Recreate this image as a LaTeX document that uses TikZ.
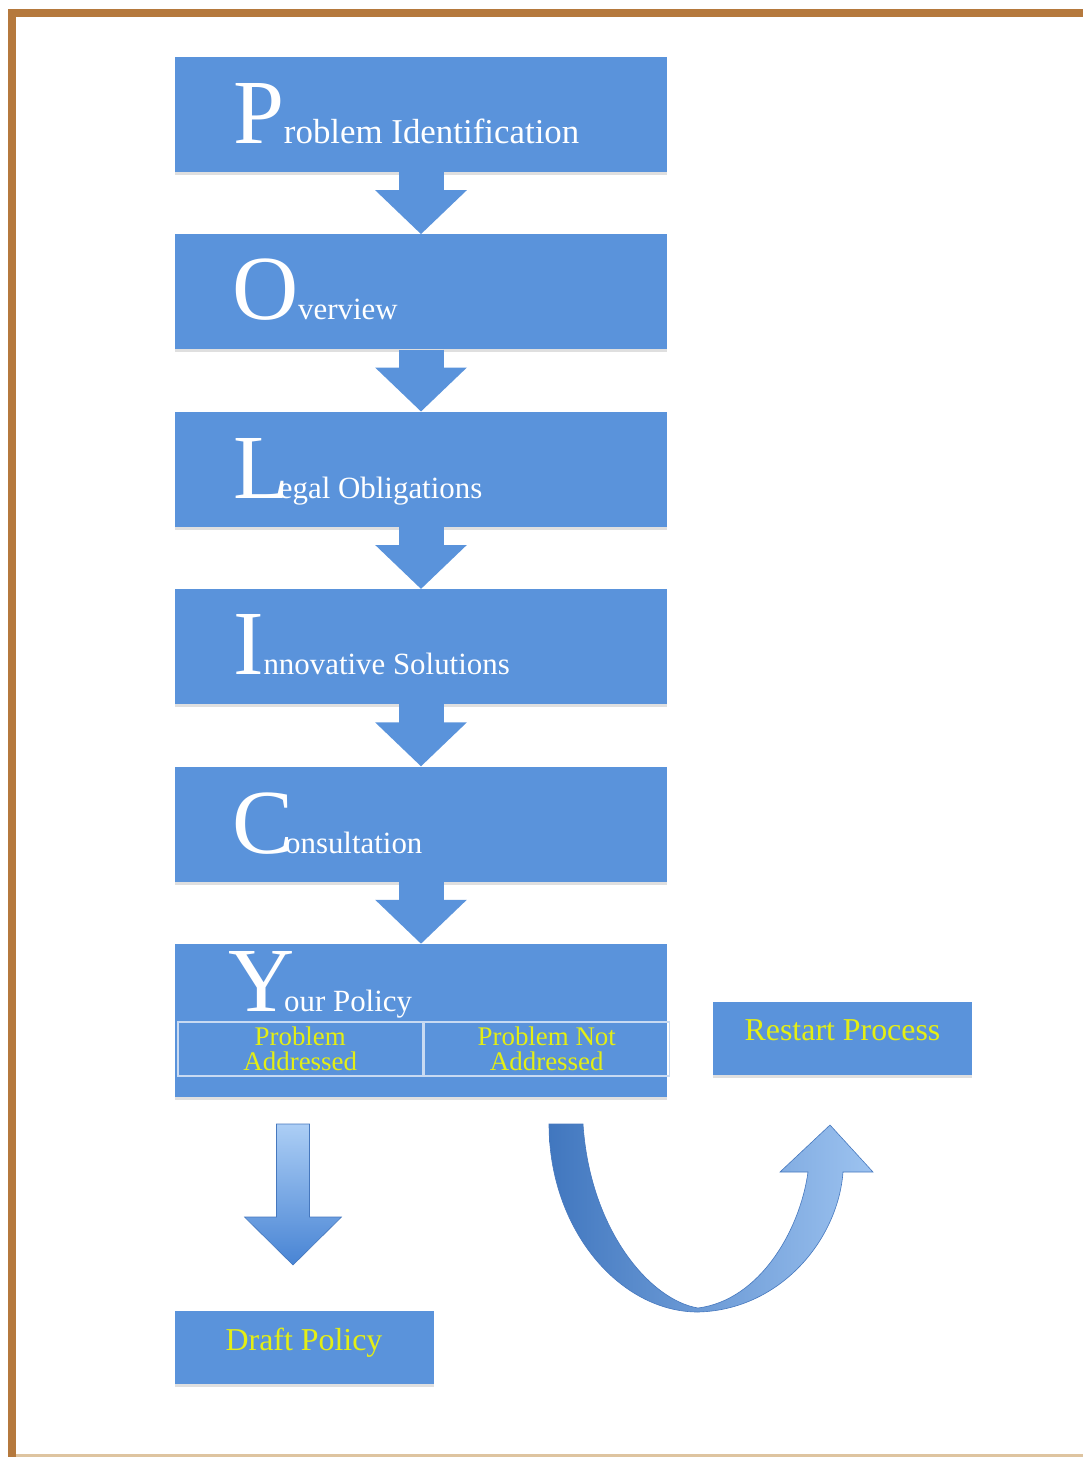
\documentclass[tikz,border=0pt]{standalone}
\usepackage{fontspec}
\setmainfont{Liberation Serif}
\usetikzlibrary{arrows.meta, shadows, calc, positioning}
\definecolor{boxBlue}{RGB}{90,147,219}
\definecolor{frameBrown}{RGB}{181,121,61}
\definecolor{frameTan}{RGB}{222,196,160}
\definecolor{textYellow}{RGB}{228,238,20}
\definecolor{lineWhite}{RGB}{200,218,242}
\definecolor{arrowLight}{RGB}{172,206,245}
\definecolor{arrowDark}{RGB}{72,132,212}
\definecolor{arrowEdge}{RGB}{70,120,190}
\tikzset{
    polBox/.style={rectangle, fill=boxBlue, minimum width=492bp, minimum height=115bp, inner sep=0pt,
        drop shadow={opacity=0.25, shadow xshift=0bp, shadow yshift=-3bp}},
    outBox/.style={rectangle, fill=boxBlue, minimum width=259bp, minimum height=73bp, inner sep=0pt,
        text=textYellow, font=\fontsize{32}{32}\selectfont, text depth=15bp,
        drop shadow={opacity=0.25, shadow xshift=0bp, shadow yshift=-3bp}},
    cellBox/.style={rectangle, draw=lineWhite, line width=1.5bp, minimum width=245bp, minimum height=54bp,
        inner sep=0pt, text=textYellow, align=center, font=\fontsize{27}{26}\selectfont},
    stepText/.style={anchor=base west, inner sep=0pt, text=white},
    stepArrow/.style={boxBlue, line width=45bp, -{Triangle[width=89bp, length=44bp]}},
    blockArrow/.style={top color=arrowLight, bottom color=arrowDark, draw=arrowEdge, line width=0.6bp},
}
\newcommand{\bigInitial}[3][31]{{\fontsize{92}{92}\selectfont #2}{\fontsize{#1}{#1}\selectfont #3}}
\newcommand{\drawStepArrow}[2]{
    \draw[stepArrow] (#1.south) -- (#2.north);
}

\begin{document}
\begin{tikzpicture}[x=1bp, y=-1bp, node distance=62bp]
    \useasboundingbox (0,0) rectangle (1083,1457);

    % frame
    \fill[frameBrown] (8,9) rectangle (1083,17);
    \fill[frameBrown] (8,9) rectangle (16,1457);
    \fill[frameTan] (16,1454) rectangle (1083,1457);

    \node[polBox] (P) at (421,114.5) {};
    \node[polBox, below=of P] (O) {};
    \node[polBox, below=of O] (L) {};
    \node[polBox, below=of L] (I) {};
    \node[polBox, below=of I] (C) {};
    \node[polBox, below=of C, minimum height=153bp] (Y) {};

    \node[stepText] (Ptext) at ($(P.south west)+(58,-29)$) {\bigInitial[35]{P}{roblem Identification}};
    \node[stepText] (Otext) at ($(O.south west)+(57,-30)$) {\bigInitial{O}{verview}};
    \node[stepText] (Ltext) at ($(L.south west)+(58,-29)$) {\bigInitial{L}{\kern-10bp egal Obligations}};
    \node[stepText] (Itext) at ($(I.south west)+(58,-30)$) {\bigInitial{I}{nnovative Solutions}};
    \node[stepText] (Ctext) at ($(C.south west)+(57,-28)$) {\bigInitial{C}{\kern-8bp onsultation}};
    \node[stepText] (Ytext) at ($(Y.north west)+(53,68)$) {\bigInitial{Y}{\kern-10bp our Policy}};

    \node[cellBox, anchor=north west] (addr) at (177,1021) {Problem\\Addressed};
    \node[cellBox, right=0bp of addr] (notAddr) {Problem Not\\Addressed};

    \node[outBox] (restart) at (842.5,1038) {Restart Process};
    \node[outBox] (draft) at (304,1347) {Draft Policy};

    \drawStepArrow{P}{O}
    \drawStepArrow{O}{L}
    \drawStepArrow{L}{I}
    \drawStepArrow{I}{C}
    \drawStepArrow{C}{Y}

    % addressed -> draft policy
    \coordinate (dnStart) at (293,1124);
    \coordinate (dnEnd) at (293,1265);
    \shadedraw[blockArrow] ($(dnStart)+(-16.5,0)$) -- ($(dnStart)+(16.5,0)$) -- ($(dnEnd)+(16.5,-48)$)
        -- ($(dnEnd)+(48.5,-48)$) -- (dnEnd) -- ($(dnEnd)+(-48.5,-48)$) -- ($(dnEnd)+(-16.5,-48)$) -- cycle;

    % not addressed -> restart process
    \coordinate (uStart) at (566,1124);
    \coordinate (uTip) at (830,1125);
    \shadedraw[blockArrow, left color=arrowDark!90!black, right color=arrowLight!85!arrowDark]
        ($(uStart)+(-17,0)$) .. controls (549,1230) and (620,1312) .. (698,1312)
        .. controls (780,1310) and (838,1240) .. (843,1172) -- (873,1172) -- (uTip) -- (780,1172) -- (808,1172)
        .. controls (800,1230) and (760,1300) .. (698,1308)
        .. controls (650,1300) and (590,1230) .. ($(uStart)+(17,0)$) -- cycle;

\end{tikzpicture}
\end{document}
